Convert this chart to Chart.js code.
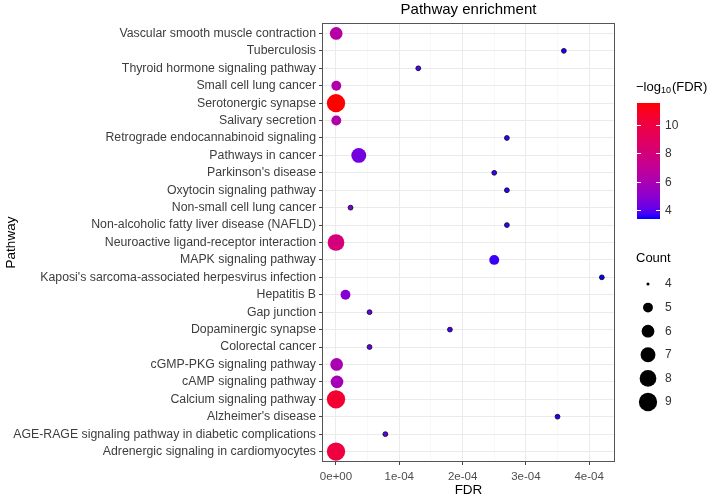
<!DOCTYPE html>
<html>
<head>
<meta charset="utf-8">
<script src="https://cdn.jsdelivr.net/npm/chart.js@4/dist/chart.umd.min.js"></script>
<style>
  html, body { margin: 0; padding: 0; background: #fff; }
  #wrap { width: 720px; height: 498px; }
</style>
</head>
<body>
<div id="wrap"><canvas id="enrich" width="720" height="498"></canvas></div>
<script>
// Datos de la gráfica (de arriba a abajo)
var pathways = [
  "Vascular smooth muscle contraction",
  "Tuberculosis",
  "Thyroid hormone signaling pathway",
  "Small cell lung cancer",
  "Serotonergic synapse",
  "Salivary secretion",
  "Retrograde endocannabinoid signaling",
  "Pathways in cancer",
  "Parkinson's disease",
  "Oxytocin signaling pathway",
  "Non-small cell lung cancer",
  "Non-alcoholic fatty liver disease (NAFLD)",
  "Neuroactive ligand-receptor interaction",
  "MAPK signaling pathway",
  "Kaposi's sarcoma-associated herpesvirus infection",
  "Hepatitis B",
  "Gap junction",
  "Dopaminergic synapse",
  "Colorectal cancer",
  "cGMP-PKG signaling pathway",
  "cAMP signaling pathway",
  "Calcium signaling pathway",
  "Alzheimer's disease",
  "AGE-RAGE signaling pathway in diabetic complications",
  "Adrenergic signaling in cardiomyocytes"
];
var fdr = [3e-7, 3.6e-4, 1.3e-4, 5e-7, 3e-12, 5e-7, 2.7e-4, 3.6e-5, 2.5e-4, 2.7e-4,
           2.3e-5, 2.7e-4, 1e-8, 2.5e-4, 4.2e-4, 1.5e-5, 5.3e-5, 1.8e-4, 5.3e-5, 1e-6,
           1.6e-6, 3e-11, 3.5e-4, 7.8e-5, 1e-10];
var counts = [6, 4, 4, 5, 9, 5, 4, 7, 4, 4, 4, 4, 8, 5, 4, 5, 4, 4, 4, 6, 6, 9, 4, 4, 9];
var xTicks = [0, 1e-4, 2e-4, 3e-4, 4e-4];
var colorTicks = [4, 6, 8, 10];
var countLevels = [4, 5, 6, 7, 8, 9];

var FONT = "'Liberation Sans', Arial, sans-serif";

// escala de color azul -> rojo interpolada en Lab (como ggplot)
function toLin(c) { c /= 255; return c <= 0.04045 ? c / 12.92 : Math.pow((c + 0.055) / 1.055, 2.4); }
function toLab(rgb) {
  var r = toLin(rgb[0]), g = toLin(rgb[1]), b = toLin(rgb[2]);
  var X = (0.4124 * r + 0.3576 * g + 0.1805 * b) / 0.95047;
  var Y = (0.2126 * r + 0.7152 * g + 0.0722 * b);
  var Z = (0.0193 * r + 0.1192 * g + 0.9505 * b) / 1.08883;
  var f = function (t) { return t > 0.008856 ? Math.cbrt(t) : 7.787 * t + 16 / 116; };
  var fx = f(X), fy = f(Y), fz = f(Z);
  return [116 * fy - 16, 500 * (fx - fy), 200 * (fy - fz)];
}
function fromLab(lab) {
  var fy = (lab[0] + 16) / 116, fx = fy + lab[1] / 500, fz = fy - lab[2] / 200;
  var inv = function (f) { var t = f * f * f; return t > 0.008856 ? t : (f - 16 / 116) / 7.787; };
  var X = inv(fx) * 0.95047, Y = inv(fy), Z = inv(fz) * 1.08883;
  var r = 3.2406 * X - 1.5372 * Y - 0.4986 * Z;
  var g = -0.9689 * X + 1.8758 * Y + 0.0415 * Z;
  var b = 0.0557 * X - 0.2040 * Y + 1.0570 * Z;
  var gam = function (c) {
    c = c <= 0.0031308 ? 12.92 * c : 1.055 * Math.pow(c, 1 / 2.4) - 0.055;
    return Math.round(Math.max(0, Math.min(1, c)) * 255);
  };
  return "rgb(" + gam(r) + "," + gam(g) + "," + gam(b) + ")";
}
var labLo = toLab([0, 0, 255]), labHi = toLab([255, 0, 0]);
var logv = fdr.map(function (v) { return -Math.log10(v); });
var cMin = Math.min.apply(null, logv), cMax = Math.max.apply(null, logv);
function colorFor(v) {
  var t = Math.max(0, Math.min(1, (v - cMin) / (cMax - cMin)));
  return fromLab([0, 1, 2].map(function (k) { return labLo[k] + (labHi[k] - labLo[k]) * t; }));
}
// tamaño por área (rango 1..6 como scale_size)
function diamFor(c) { return 3.05 * (1 + 5 * Math.sqrt((c - 4) / 5)); }

var points = fdr.map(function (v, i) { return { x: v, y: i }; });

// Panel, leyenda de color y leyenda de tamaño
var decor = {
  id: "decor",
  beforeDatasetsDraw: function (chart) {
    var a = chart.chartArea, ctx = chart.ctx;
    ctx.save();
    ctx.strokeStyle = "#555";
    ctx.lineWidth = 1;
    ctx.strokeRect(a.left + 0.5, a.top + 0.5, a.right - a.left - 1, a.bottom - a.top - 1);
    ctx.restore();
  },
  afterDraw: function (chart) {
    var a = chart.chartArea, ctx = chart.ctx;
    ctx.save();
    // título
    ctx.fillStyle = "#000";
    ctx.font = "15px " + FONT;
    ctx.textAlign = "center";
    ctx.textBaseline = "middle";
    ctx.fillText("Pathway enrichment", (a.left + a.right) / 2, 10);

    // leyenda de color
    var bx = 637, bw = 23, top = 103, bot = 219;
    ctx.textAlign = "left";
    ctx.font = "13px " + FONT;
    ctx.fillText("\u2212log", 636, 87);
    var w1 = ctx.measureText("\u2212log").width;
    ctx.font = "9px " + FONT;
    ctx.fillText("10", 636 + w1, 91);
    var w2 = ctx.measureText("10").width;
    ctx.font = "13px " + FONT;
    ctx.fillText("(FDR)", 636 + w1 + w2 + 1, 87);

    var grad = ctx.createLinearGradient(0, bot, 0, top);
    for (var s = 0; s <= 20; s++) {
      grad.addColorStop(s / 20, colorFor(cMin + (cMax - cMin) * s / 20));
    }
    ctx.fillStyle = grad;
    ctx.fillRect(bx, top, bw, bot - top);
    ctx.strokeStyle = "#fff";
    ctx.lineWidth = 1;
    ctx.font = "12px " + FONT;
    ctx.fillStyle = "#333";
    colorTicks.forEach(function (v) {
      var y = Math.round(bot - (v - cMin) / (cMax - cMin) * (bot - top)) + 0.5;
      ctx.beginPath();
      ctx.moveTo(bx, y); ctx.lineTo(bx + 4, y);
      ctx.moveTo(bx + bw - 4, y); ctx.lineTo(bx + bw, y);
      ctx.stroke();
      ctx.fillText(String(v), 665, y);
    });

    // leyenda de tamaño
    ctx.fillStyle = "#000";
    ctx.font = "13px " + FONT;
    ctx.fillText("Count", 636, 258);
    ctx.font = "12px " + FONT;
    countLevels.forEach(function (c, i) {
      var y = 284 + i * 23.6;
      ctx.fillStyle = "#000";
      ctx.beginPath();
      ctx.arc(648, y, diamFor(c) / 2, 0, Math.PI * 2);
      ctx.fill();
      ctx.fillStyle = "#333";
      ctx.fillText(String(c), 665, y);
    });
    ctx.restore();
  }
};

var chart = new Chart("enrich", {
  type: "scatter",
  data: {
    datasets: [{
      data: points,
      backgroundColor: logv.map(colorFor),
      borderColor: counts.map(function (c) { return c === 4 ? "rgba(15,10,50,0.9)" : "rgba(0,0,0,0)"; }),
      borderWidth: counts.map(function (c) { return c === 4 ? 1 : 0; }),
      pointRadius: counts.map(function (c) { return c === 4 ? 2.4 : diamFor(c) / 2; }),
      pointHoverRadius: counts.map(function (c) { return c === 4 ? 2.4 : diamFor(c) / 2; })
    }]
  },
  options: {
    responsive: false,
    animation: false,
    layout: { padding: { top: 23, right: 105, left: 0, bottom: 0 } },
    plugins: { legend: { display: false }, tooltip: { enabled: false } },
    scales: {
      x: {
        type: "linear",
        min: -0.221e-4,
        max: 4.408e-4,
        afterBuildTicks: function (scale) {
          var t = [];
          for (var k = -0.5e-4; k <= 4.5e-4; k += 0.5e-4) {
            var v = Math.round(k * 1e6) / 1e6;
            if (v >= scale.min && v <= scale.max) t.push({ value: v });
          }
          scale.ticks = t;
        },
        afterFit: function (scale) { scale.height = 36; },
        border: { display: false },
        grid: {
          color: function (c) { return xTicks.indexOf(c.tick.value) >= 0 ? "#ebebeb" : "#f3f3f3"; },
          lineWidth: function (c) { return xTicks.indexOf(c.tick.value) >= 0 ? 1 : 0.6; },
          tickColor: function (c) { return xTicks.indexOf(c.tick.value) >= 0 ? "#444" : "rgba(0,0,0,0)"; },
          tickLength: 3
        },
        ticks: {
          autoSkip: false,
          maxRotation: 0,
          padding: 5,
          color: "#4d4d4d",
          font: { family: FONT, size: 11.5 },
          callback: function (v) {
            if (xTicks.indexOf(v) < 0) return "";
            return v === 0 ? "0e+00" : v.toExponential(0).replace("e-", "e-0");
          }
        },
        title: { display: true, text: "FDR", color: "#000", font: { family: FONT, size: 13.5 }, padding: { top: 0, bottom: 0 } }
      },
      y: {
        type: "linear",
        reverse: true,
        min: -0.6,
        max: pathways.length - 0.4,
        afterBuildTicks: function (scale) {
          scale.ticks = pathways.map(function (p, i) { return { value: i }; });
        },
        afterFit: function (scale) { scale.width = 322; },
        border: { display: false },
        grid: { color: "#ebebeb", lineWidth: 1, tickColor: "#444", tickLength: 3 },
        ticks: {
          autoSkip: false,
          padding: 3,
          color: "#3d3d3d",
          font: { family: FONT, size: 12.3 },
          callback: function (v) { return pathways[v]; }
        },
        title: { display: true, text: "Pathway", color: "#000", font: { family: FONT, size: 13.5 }, padding: { top: 3, bottom: 0 } }
      }
    }
  },
  plugins: [decor]
});
</script>
</body>
</html>
